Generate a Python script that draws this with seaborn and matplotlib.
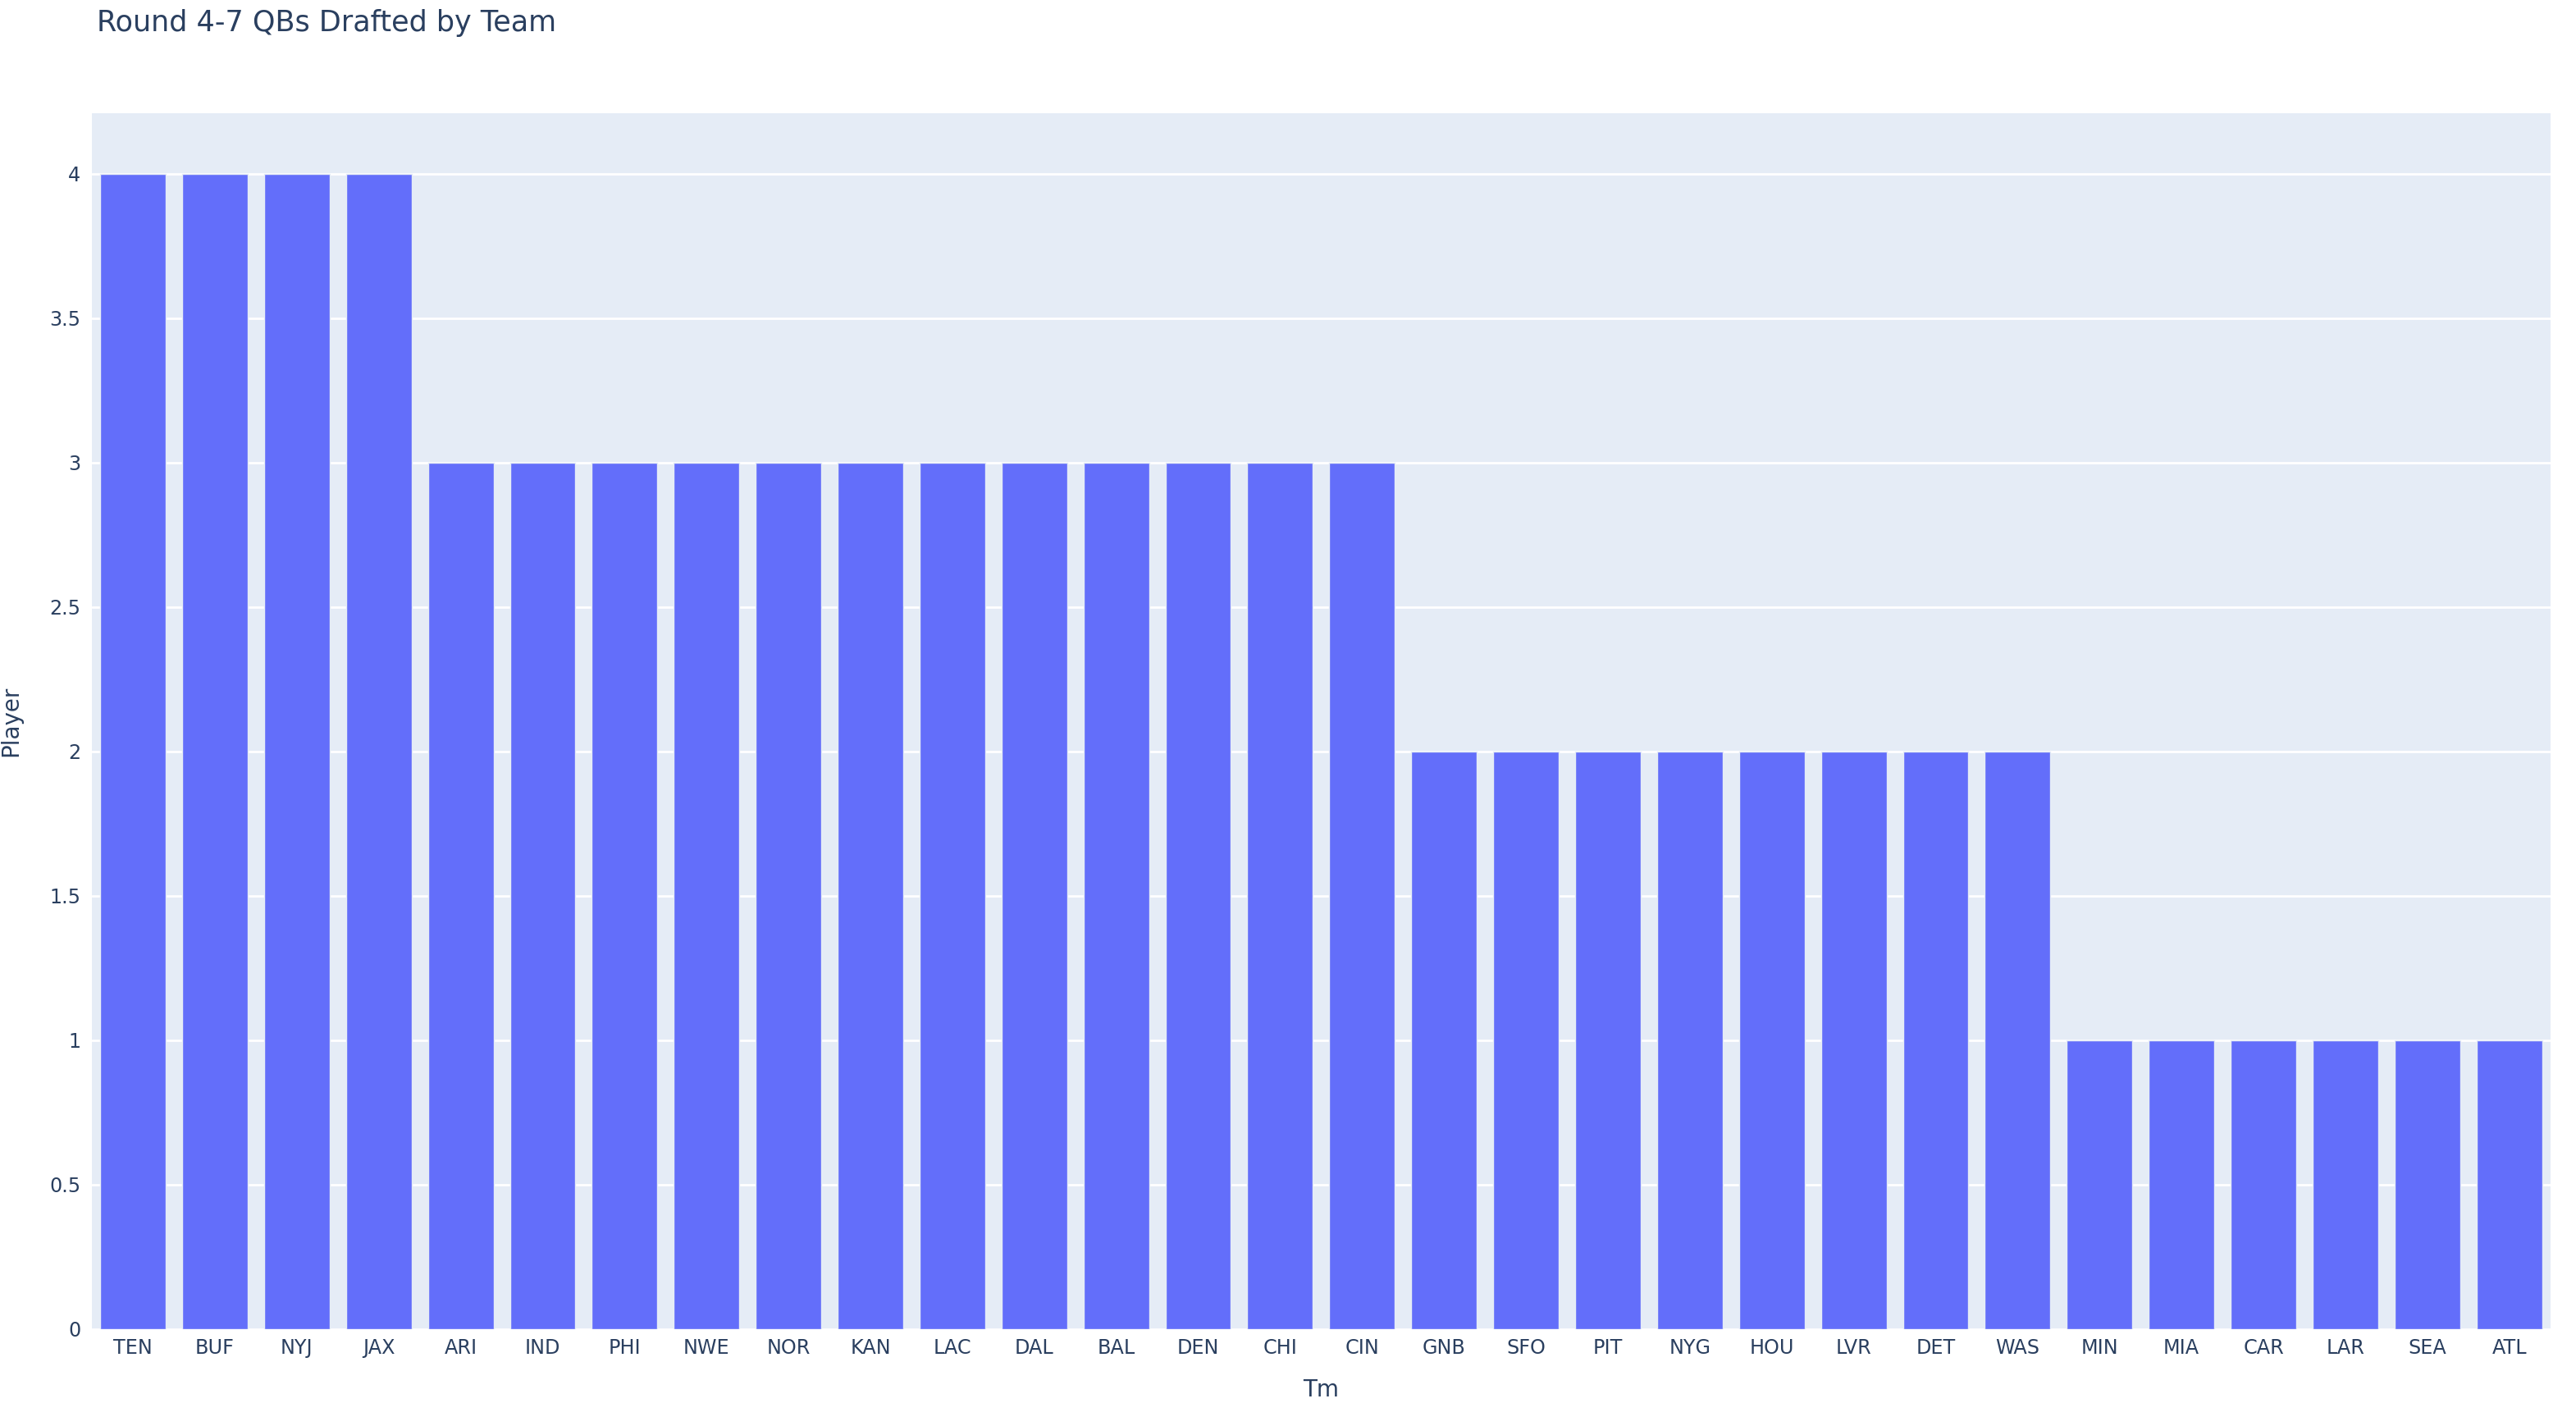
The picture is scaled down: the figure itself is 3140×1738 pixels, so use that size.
import matplotlib
matplotlib.use('Agg')
import matplotlib.pyplot as plt
import seaborn as sns
import pandas as pd

teams = ['TEN', 'BUF', 'NYJ', 'JAX', 'ARI', 'IND', 'PHI', 'NWE', 'NOR', 'KAN',
         'LAC', 'DAL', 'BAL', 'DEN', 'CHI', 'CIN', 'GNB', 'SFO', 'PIT', 'NYG',
         'HOU', 'LVR', 'DET', 'WAS', 'MIN', 'MIA', 'CAR', 'LAR', 'SEA', 'ATL']
players = [4, 4, 4, 4, 3, 3, 3, 3, 3, 3,
           3, 3, 3, 3, 3, 3, 2, 2, 2, 2,
           2, 2, 2, 2, 1, 1, 1, 1, 1, 1]
y_ticks = [0, 0.5, 1, 1.5, 2, 2.5, 3, 3.5, 4]
y_tick_labels = ['0', '0.5', '1', '1.5', '2', '2.5', '3', '3.5', '4']

df = pd.DataFrame({'Tm': teams, 'Player': players})

sns.set_style('white')
plt.rcParams['font.family'] = ['DejaVu Sans']
text_color = '#2a3f5f'

fig = plt.figure(figsize=(15.7, 8.69), dpi=200)
ax = fig.add_axes([0.0357, 0.0679, 0.9543, 0.8527])
ax.set_facecolor('#E5ECF6')

sns.barplot(data=df, x='Tm', y='Player', color='#636EFA', saturation=1,
            width=0.8, edgecolor='#E5ECF6', linewidth=0.5, ax=ax, zorder=3)

ax.set_xlim(-0.5, len(teams) - 0.5)
ax.set_ylim(0, 4.21)
ax.set_yticks(y_ticks)
ax.set_yticklabels(y_tick_labels)
ax.grid(axis='y', color='white', linewidth=1.0, zorder=0)
ax.set_axisbelow(True)
for s in ax.spines.values():
    s.set_visible(False)
ax.tick_params(axis='both', length=0, labelsize=8.6, colors=text_color)
ax.tick_params(axis='x', pad=4)
ax.tick_params(axis='y', pad=5)

ax.set_xlabel('Tm', fontsize=10, color=text_color, labelpad=9)
ax.set_ylabel('Player', fontsize=10, color=text_color, labelpad=12)

fig.text(118 / 3140, 1 - 28 / 1738, 'Round 4-7 QBs Drafted by Team',
         fontsize=12.6, color=text_color, ha='left', va='center')

fig.savefig('out.png', dpi=200)
